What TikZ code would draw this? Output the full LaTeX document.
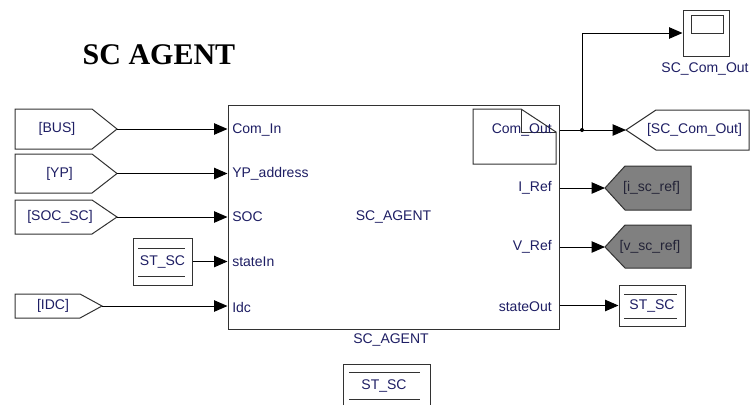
\documentclass[tikz,border=0pt]{standalone}
\usepackage{fontspec}
\setmainfont{Liberation Sans}
\newfontfamily\titlefont{Liberation Serif}
\usepackage{tikz}
\usetikzlibrary{arrows.meta, positioning}
\usepackage{xcolor}
\definecolor{cLabel}{RGB}{30,30,100}
\definecolor{cEdge}{RGB}{50,50,50}
\definecolor{cGotoFill}{RGB}{128,128,128}
\definecolor{cGrayText}{RGB}{35,35,55}
\tikzset{
  portlbl/.style={inner sep=0pt, text=cLabel,
                  font=\fontsize{10.5}{12}\selectfont},
  blockbox/.style={rectangle, draw=cEdge, line width=0.75pt, fill=white,
                   portlbl},
  gotoshape/.style={draw=cEdge, line width=0.75pt, fill=white},
  graygoto/.style={gotoshape, fill=cGotoFill},
  tagline/.style={draw=cEdge, line width=0.75pt},
  sigline/.style={line width=0.75pt, draw=black},
  sigarrow/.style={sigline, -{Triangle[length=10pt, width=8.5pt]}},
  titletext/.style={font=\titlefont\bfseries\fontsize{22.5}{26}\selectfont}
}
\begin{document}
\begin{tikzpicture}[x=0.75pt, y=-0.75pt]
  \useasboundingbox (0,0) rectangle (752,405);

  \node[titletext] (title) at (159,55) {SC AGENT};

  % main subsystem
  \node[blockbox, minimum width=248.25pt, minimum height=168pt] (agent)
      at (393.5,217) {SC\_AGENT};
  \node[portlbl] (agent_name) at (391,340) {SC\_AGENT};

  % input ports
  \node[portlbl, anchor=west] (p_comin) at (232,130) {Com\_In};
  \node[portlbl, anchor=west] (p_yp)    at (232,174) {YP\_address};
  \node[portlbl, anchor=west] (p_soc)   at (232,217) {SOC};
  \node[portlbl, anchor=west] (p_stin)  at (232,262) {stateIn};
  \node[portlbl, anchor=west] (p_idc)   at (232,307) {Idc};

  % output ports
  \node[portlbl, anchor=east] (p_iref)  at (552,188) {I\_Ref};
  \node[portlbl, anchor=east] (p_vref)  at (552,247) {V\_Ref};
  \node[portlbl, anchor=east] (p_stout) at (552,307) {stateOut};

  % Com_Out block (folded corner)
  \draw[gotoshape] (473,109) -- (521,109) -- (556,132) -- (556,164)
      -- (473,164) -- cycle;
  \draw[tagline] (521,109) -- (521,132) -- (556,132);
  \node[portlbl, anchor=east] (p_comout) at (552,130) {Com\_Out};

  % from blocks (left)
  \draw[gotoshape] (15,109) -- (92,109) -- (117,129) -- (92,149)
      -- (15,149) -- cycle;
  \node[portlbl] (bus_in) at (57,129) {[BUS]};
  \coordinate (bus_tip) at (117,129);

  \draw[gotoshape] (15,154) -- (92,154) -- (117,173.5) -- (92,193)
      -- (15,193) -- cycle;
  \node[portlbl] (yp_in) at (59.5,173.5) {[YP]};
  \coordinate (yp_tip) at (117,173.5);

  \draw[gotoshape] (15,200) -- (92,200) -- (117,217) -- (92,234)
      -- (15,234) -- cycle;
  \node[portlbl] (soc_in) at (60,217) {[SOC\_SC]};
  \coordinate (soc_tip) at (117,217);

  \draw[gotoshape] (15,294) -- (80,294) -- (102,306) -- (80,318)
      -- (15,318) -- cycle;
  \node[portlbl] (idc_in) at (53,306) {[IDC]};
  \coordinate (idc_tip) at (102,306);

  \node[blockbox, minimum width=44.25pt, minimum height=35.25pt] (st_in)
      at (162.5,261.5) {ST\_SC};
  \draw[tagline] (138,248) -- (185,248);
  \draw[tagline] (138,276) -- (185,276);

  % goto blocks (right)
  \draw[gotoshape] (626,130) -- (656,110) -- (749,110) -- (749,150)
      -- (656,150) -- cycle;
  \node[portlbl] (sccom_out) at (694.5,130) {[SC\_Com\_Out]};
  \coordinate (sccom_tip) at (626,130);

  \draw[graygoto] (605,188) -- (625,166) -- (691,166) -- (691,210)
      -- (625,210) -- cycle;
  \node[portlbl, text=cGrayText] (iref_out) at (651.5,188) {[i\_sc\_ref]};
  \coordinate (iref_tip) at (605,188);

  \draw[graygoto] (605,247) -- (625,225) -- (691,225) -- (691,268)
      -- (625,268) -- cycle;
  \node[portlbl, text=cGrayText] (vref_out) at (650,247) {[v\_sc\_ref]};
  \coordinate (vref_tip) at (605,247);

  \node[blockbox, minimum width=49.5pt, minimum height=30.75pt] (st_out)
      at (652,305.5) {ST\_SC};
  \draw[tagline] (624,294) -- (677,294);
  \draw[tagline] (624,318) -- (677,318);

  % scope
  \node[blockbox, minimum width=34.5pt, minimum height=34.5pt] (scope)
      at (706,33) {};
  \draw[tagline] (691,15) rectangle (723,33);
  \node[portlbl] (scope_name) at (705,69) {SC\_Com\_Out};

  % extra from block (cut off at bottom)
  \draw[tagline] (343,405) -- (343,364) -- (430,364) -- (430,405);
  \draw[tagline] (349,372) -- (420,372);
  \draw[tagline] (349,399) -- (420,399);
  \node[portlbl] (st_extra) at (384,386) {ST\_SC};

  % input signals
  \draw[sigarrow] (bus_tip) -- (bus_tip -| agent.west);
  \draw[sigarrow] (yp_tip) -- (yp_tip -| agent.west);
  \draw[sigarrow] (soc_tip) -- (soc_tip -| agent.west);
  \draw[sigarrow] (st_in.east) -- (st_in.east -| agent.west);
  \draw[sigarrow] (idc_tip) -- (idc_tip -| agent.west);

  % output signals
  \coordinate (junc) at (582,130);
  \draw[sigline] (agent.east |- junc) -- (junc);
  \draw[sigarrow] (junc) -- (sccom_tip);
  \draw[sigarrow] (junc) |- (scope.west);
  \fill (junc) circle (2);
  \draw[sigarrow] (agent.east |- iref_tip) -- (iref_tip);
  \draw[sigarrow] (agent.east |- vref_tip) -- (vref_tip);
  \draw[sigarrow] (agent.east |- st_out.west) -- (st_out.west);
\end{tikzpicture}
\end{document}
